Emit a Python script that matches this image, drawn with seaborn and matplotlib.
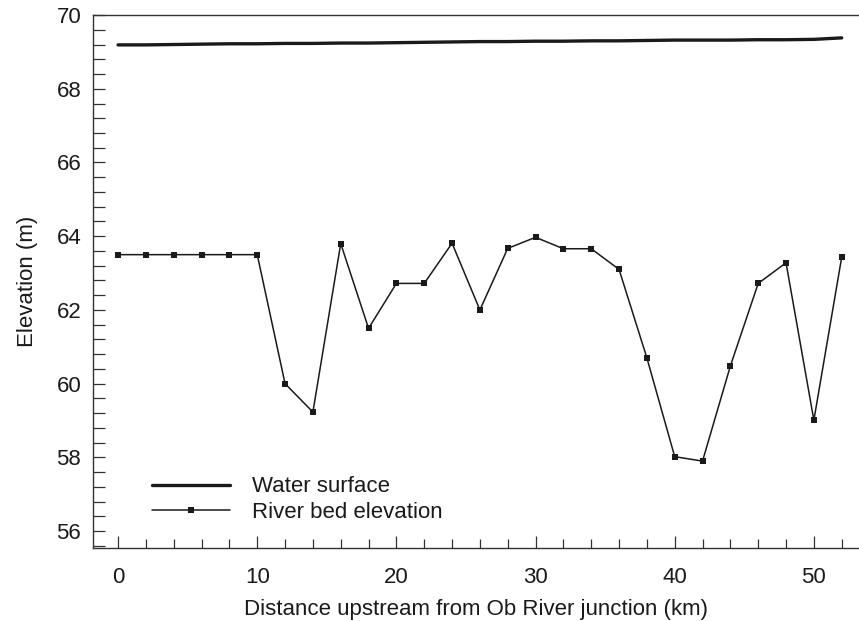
import numpy as np
import pandas as pd
import matplotlib
matplotlib.use("Agg")
import matplotlib.pyplot as plt
from matplotlib.ticker import MultipleLocator
import seaborn as sns

distance_km = [0, 2, 4, 6, 8, 10, 12, 14, 16, 18, 20, 22, 24, 26, 28, 30,
               32, 34, 36, 38, 40, 42, 44, 46, 48, 50, 52]
river_bed = [63.5, 63.5, 63.5, 63.5, 63.5, 63.5, 60.0, 59.23, 63.8, 61.5,
             62.72, 62.72, 63.81, 62.0, 63.67, 63.97, 63.66, 63.66, 63.1,
             60.7, 58.02, 57.9, 60.48, 62.72, 63.28, 59.01, 63.43]
water_surface = [69.19, 69.19, 69.20, 69.21, 69.22, 69.22, 69.23, 69.23,
                 69.24, 69.24, 69.25, 69.26, 69.27, 69.28, 69.28, 69.29,
                 69.29, 69.30, 69.30, 69.31, 69.32, 69.32, 69.32, 69.33,
                 69.33, 69.34, 69.38]

df = pd.DataFrame({"km": distance_km, "bed": river_bed, "ws": water_surface})

sns.set_style("ticks")
plt.rcParams["font.family"] = ["Liberation Sans", "DejaVu Sans"]

fig = plt.figure(figsize=(8.59, 6.21), dpi=100)
ax = fig.add_axes([0.1083, 0.118, 0.891, 0.8578])

col = "#1a1a1a"
fs = 16
sns.lineplot(data=df, x="km", y="ws", ax=ax, color=col, linewidth=2.4,
             label="Water surface")
sns.lineplot(data=df, x="km", y="bed", ax=ax, color=col, linewidth=1.1,
             marker="s", markersize=5, markeredgewidth=0, label="River bed elevation")

ax.set_xlim(-1.8, 53.2)
ax.set_ylim(55.55, 70)
ax.xaxis.set_major_locator(MultipleLocator(10))
ax.xaxis.set_minor_locator(MultipleLocator(2))
ax.yaxis.set_major_locator(MultipleLocator(2))
ax.yaxis.set_minor_locator(MultipleLocator(0.4))

for s in ["left", "bottom", "top"]:
    ax.spines[s].set_visible(True)
    ax.spines[s].set_color("#333333")
    ax.spines[s].set_linewidth(1.0)
ax.spines["right"].set_visible(False)

ax.tick_params(axis="y", which="both", direction="in", length=8.5, width=0.9,
               color="#333333", labelsize=fs, pad=8.5, labelcolor=col)
ax.tick_params(axis="x", which="major", direction="in", length=9, width=0.9,
               color="#333333", labelsize=fs, pad=14, labelcolor=col)
ax.tick_params(axis="x", which="minor", direction="in", length=6.5, width=0.9,
               color="#333333")
ax.tick_params(top=False, right=False, which="both")

ax.set_xlabel("Distance upstream from Ob River junction (km)", fontsize=fs,
              color=col, labelpad=8)
ax.set_ylabel("Elevation (m)", fontsize=fs, color=col, labelpad=13)

leg = ax.legend(loc="lower left", bbox_to_anchor=(0.066, 0.03), frameon=False,
                fontsize=fs, handlelength=3.5, handletextpad=1.0,
                labelspacing=0.2, borderaxespad=0)
for t in leg.get_texts():
    t.set_color(col)

fig.savefig("out.png", dpi=100)
